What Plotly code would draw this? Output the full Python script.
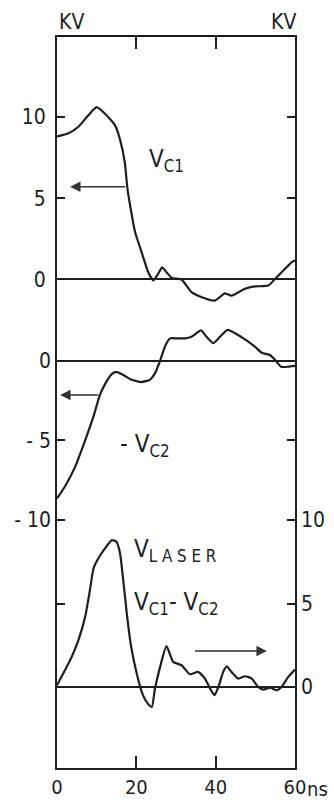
import plotly.graph_objects as go

# time axis (ns)
x_ticks = [0, 20, 40, 60]

# V_C1 (kV, left upper scale)
t_c1 = [0, 2.9, 5.4, 7.9, 10.0, 12.1, 14.6, 15.9, 17.1, 17.7, 18.4, 19.7, 21.3, 23.0, 24.3,
        25.5, 26.5, 27.6, 28.9, 31.4, 33.9, 36.5, 39.8, 42.3, 44.0, 47.4, 49.9, 53.3, 55.0,
        57.5, 59.2, 60]
v_c1 = [8.8, 9.0, 9.4, 10.1, 10.6, 10.2, 9.5, 8.6, 7.2, 5.7, 4.6, 2.9, 1.7, 0.45, -0.06,
        0.35, 0.75, 0.45, 0.1, 0.0, -0.78, -1.09, -1.3, -0.85, -0.99, -0.57, -0.43, -0.37, 0.04,
        0.66, 1.07, 1.17]

# -V_C2 (kV, left middle scale)
t_c2 = [0, 2.0, 4.5, 7.1, 9.2, 10.8, 12.5, 13.8, 15.0, 16.7, 18.8, 21.3, 23.4, 24.7, 26.0,
        27.2, 28.5, 30.2, 32.3, 33.9, 36.3, 37.7, 39.4, 41.1, 43.0, 44.9, 47.0, 48.2, 49.9,
        51.6, 53.7, 55.0, 56.5, 58.3, 60]
v_c2 = [-8.65, -7.9, -6.7, -5.0, -3.5, -2.16, -1.3, -0.84, -0.7, -0.9, -1.2, -1.34, -1.2, -0.8, 0.0,
        0.88, 1.4, 1.4, 1.4, 1.5, 1.9, 1.5, 1.1, 1.5, 1.93, 1.72, 1.4, 1.2, 0.88,
        0.5, 0.36, 0.04, -0.38, -0.38, -0.33]

# V_LASER = V_C1 - V_C2 (kV, right lower scale)
t_l = [0, 2.0, 3.7, 5.4, 7.1, 8.3, 9.2, 10.4, 12.1, 13.8, 15.0, 15.9, 16.7, 17.6, 18.7, 20.1,
       21.5, 22.9, 23.9, 24.7, 26.0, 27.6, 29.3, 31.4, 33.5, 35.6, 37.3, 38.6, 39.7, 40.7, 41.9,
       42.8, 44.0, 45.7, 47.4, 49.1, 50.7, 52.0, 53.7, 55.4, 56.6, 58.3, 60]
v_l = [0.1, 1.0, 1.8, 2.8, 4.2, 5.8, 7.1, 7.7, 8.3, 8.8, 8.7, 8.0, 6.4, 4.4, 2.4, 0.8,
       -0.4, -1.0, -1.2, -0.1, 1.2, 2.44, 1.5, 1.3, 0.76, 0.9, 0.5, -0.1, -0.5, 0.0, 0.9,
       1.24, 0.9, 0.5, 0.64, 0.5, 0.0, -0.16, -0.04, -0.2, 0.0, 0.6, 1.04]

y1_ticks = [0, 5, 10]
y2_ticks = [0, -5, -10]
y3_ticks = [0, 5, 10]

FONT = "DejaVu Sans Condensed, Liberation Sans Narrow, DejaVu Sans, sans-serif"
INK = "#1e1e1e"
TICKFONT = dict(family=FONT, size=21, color=INK)

fig = go.Figure()
line = dict(color=INK, width=2.2, shape="spline", smoothing=0.5)
fig.add_trace(go.Scatter(x=t_c1, y=v_c1, mode="lines", line=line, yaxis="y"))
fig.add_trace(go.Scatter(x=t_c2, y=v_c2, mode="lines", line=line, yaxis="y2"))
fig.add_trace(go.Scatter(x=t_l, y=v_l, mode="lines", line=line, yaxis="y3"))

yax_common = dict(ticks="inside", ticklen=8, tickwidth=2, tickcolor=INK,
                  showgrid=False, zeroline=True, zerolinecolor=INK, zerolinewidth=2,
                  mirror="ticks", fixedrange=True, tickfont=TICKFONT, automargin=False)

fig.update_layout(
    width=334, height=800,
    margin=dict(l=57, r=39, t=37, b=32, autoexpand=False),
    paper_bgcolor="white", plot_bgcolor="white",
    showlegend=False, hovermode=False,
    xaxis=dict(range=[0, 60], tickvals=x_ticks, ticktext=[str(v) for v in x_ticks],
               ticks="inside", ticklen=12, tickwidth=2, tickcolor=INK,
               showline=True, linecolor=INK, linewidth=2, mirror="ticks",
               showgrid=False, zeroline=False, fixedrange=True, automargin=False,
               ticklabelstandoff=0, tickfont=dict(family=FONT, size=20, color=INK)),
    yaxis=dict(range=[-30.06, 14.92], tickvals=y1_ticks, ticktext=[str(v) for v in y1_ticks],
               side="left", showline=True, linecolor=INK, linewidth=2,
               ticklabelstandoff=5, **yax_common),
    yaxis2=dict(range=[-25.57, 20.32], tickvals=y2_ticks,
                ticktext=["0", "- 5", "- 10"], side="left", overlaying="y",
                showline=False, ticklabelstandoff=5, **yax_common),
    yaxis3=dict(range=[-4.86, 38.96], tickvals=y3_ticks, ticktext=[str(v) for v in y3_ticks],
                side="right", overlaying="y", showline=False, ticklabelstandoff=5,
                **yax_common),
)

afont = dict(family=FONT, size=24, color=INK)
fig.add_annotation(x=27.7, y=7.3, xref="x", yref="y", text="V<sub>C1</sub>",
                   showarrow=False, font=afont)
fig.add_annotation(x=22.3, y=-5.3, xref="x", yref="y2", text="- V<sub>C2</sub>",
                   showarrow=False, font=afont)
fig.add_annotation(x=29.8, y=8.2, xref="x", yref="y3", text="V<sub>L A S E R</sub>",
                   showarrow=False, font=afont)
fig.add_annotation(x=30.2, y=5.0, xref="x", yref="y3", text="V<sub>C1</sub>- V<sub>C2</sub>",
                   showarrow=False, font=afont)

arrow = dict(showarrow=True, arrowhead=2, arrowsize=1.3, arrowwidth=1.6,
             arrowcolor="#333333", text="")
fig.add_annotation(x=3.3, y=5.71, xref="x", yref="y", ax=17.6, ay=5.71,
                   axref="x", ayref="y", **arrow)
fig.add_annotation(x=0.8, y=-2.15, xref="x", yref="y2", ax=10.8, ay=-2.15,
                   axref="x", ayref="y2", **arrow)
fig.add_annotation(x=52.9, y=2.15, xref="x", yref="y3", ax=34.4, ay=2.15,
                   axref="x", ayref="y3", **arrow)

lfont = dict(family=FONT, size=21, color=INK)
fig.add_annotation(x=0, y=1, xref="paper", yref="paper", yshift=15, text="KV",
                   showarrow=False, font=lfont, yanchor="middle")
fig.add_annotation(x=1, y=1, xref="paper", yref="paper", yshift=15, xshift=3, text="KV",
                   showarrow=False, font=lfont, yanchor="middle")
fig.add_annotation(x=1, y=0, xref="paper", yref="paper", yshift=-21, xshift=10, text="ns",
                   showarrow=False, font=dict(family=FONT, size=20, color=INK),
                   xanchor="left", yanchor="middle")

fig.write_html("out.html", config={"displayModeBar": False, "staticPlot": True})
